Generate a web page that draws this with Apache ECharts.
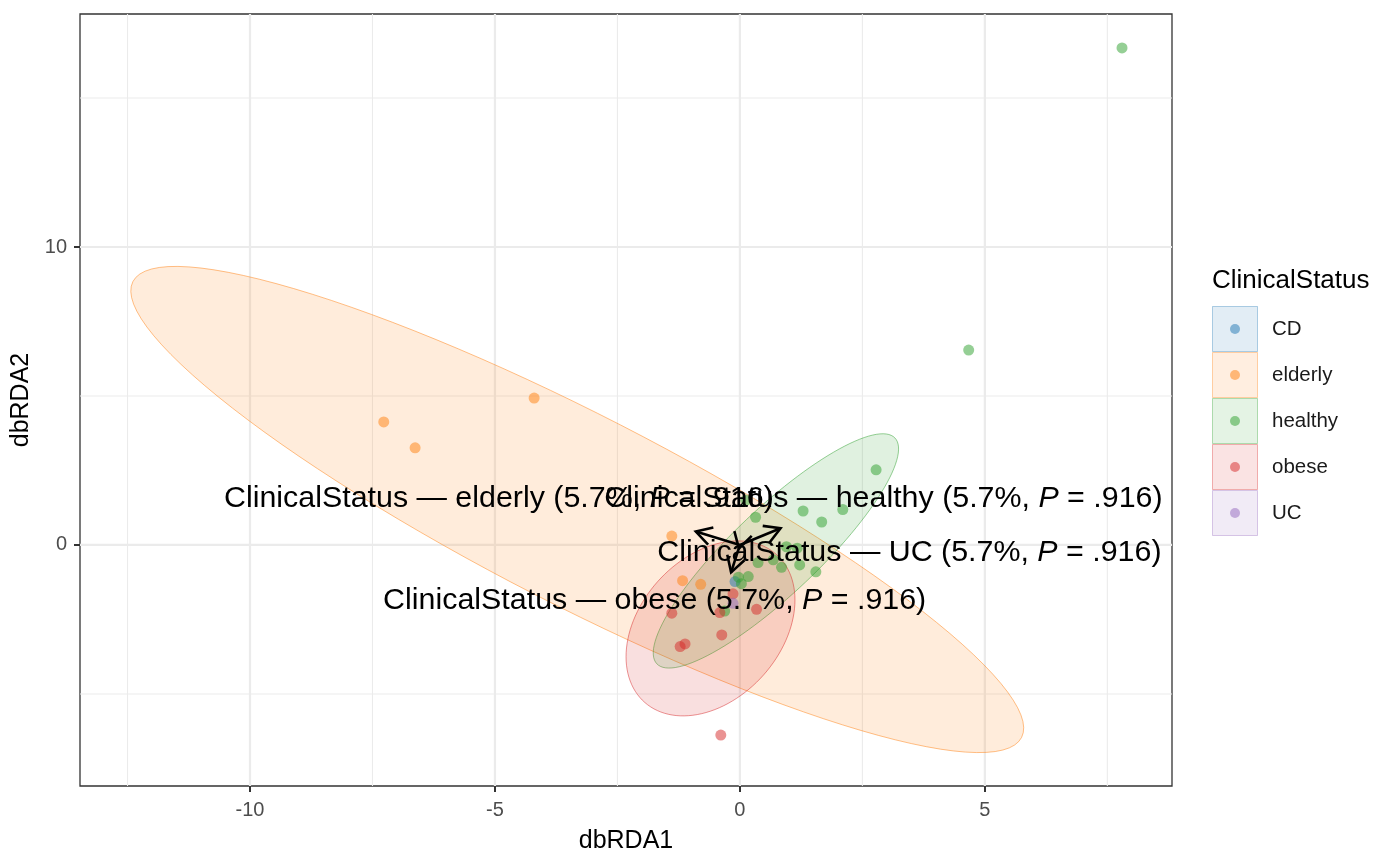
<!DOCTYPE html>
<html>
<head>
<meta charset="utf-8">
<script src="https://cdn.jsdelivr.net/npm/echarts@6/dist/echarts.min.js"></script>
<style>
  html, body { margin: 0; padding: 0; background: #fff; }
  #chart { width: 1400px; height: 866px; }
</style>
</head>
<body>
<div id="chart"></div>
<script>
// groups and colours
const groups = ['CD', 'elderly', 'healthy', 'obese', 'UC'];
const groupColors = ['#1F77B4', '#FF7F0E', '#2CA02C', '#D62728', '#9467BD'];

// sample scores (dbRDA1, dbRDA2)
const cdX = [-0.10];
const cdY = [-1.23];
const elderlyX = [-7.27, -6.63, -4.20, -1.39, -1.17, -0.80];
const elderlyY = [4.13, 3.26, 4.93, 0.30, -1.20, -1.32];
const healthyX = [7.80, 4.67, 2.78, 1.29, 1.67, 2.10, 0.32, 0.12, 0.95, 1.17, 1.22, 1.55, 0.85, 0.68, 0.37, 0.17, 0.03, -0.03, -0.31];
const healthyY = [16.68, 6.54, 2.52, 1.14, 0.77, 1.19, 0.93, 1.50, -0.06, -0.11, -0.67, -0.90, -0.75, -0.50, -0.59, -1.06, -1.30, -1.08, -2.22];
const obeseX = [-0.39, -0.14, -0.41, 0.34, -1.39, -0.37, -1.22, -1.12];
const obeseY = [-6.38, -1.64, -2.27, -2.16, -2.29, -3.02, -3.41, -3.32];
const ucX = [-0.14];
const ucY = [-1.96];

// ellipses: centre + two conjugate semi-diameters (data units)
const ellGroup = [1, 2, 3];
const ellCx = [-3.32, 0.735, -0.60];
const ellCy = [1.19, -0.20, -2.80];
const ellAx = [9.07, 2.43, 1.724];
const ellAy = [-7.65, 3.79, 0.953];
const ellBx = [0.885, -0.604, 0];
const ellBy = [2.836, 1.047, -2.778];

// constraint arrows (tips) and their labels
const arrowGroup = ['elderly', 'healthy', 'obese', 'UC'];
const arrowX = [-0.90, 0.83, -0.18, -0.02];
const arrowY = [0.45, 0.56, -0.92, -0.12];
const labelX = [-4.92, 2.93, -1.74, 3.46];
const labelY = [1.57, 1.57, -1.88, -0.26];
const labelPct = ['5.7%', '5.7%', '5.7%', '5.7%'];
const labelP = ['.916', '.916', '.916', '.916'];

// axes
const xMin = -13.47, xMax = 8.82;
const yMin = -8.09, yMax = 17.82;
const xMajor = [-10, -5, 0, 5];
const xMinor = [-12.5, -7.5, -2.5, 2.5, 7.5];
const yMajor = [0, 10];
const yMinor = [-5, 5, 15];

const FONT = 'Liberation Sans, Arial, sans-serif';
const LABEL_SIZE = 30.4;

function rgba(hex, a) {
    const n = parseInt(hex.slice(1), 16);
    return 'rgba(' + (n >> 16) + ',' + ((n >> 8) & 255) + ',' + (n & 255) + ',' + a + ')';
}

const pointSets = [[cdX, cdY], [elderlyX, elderlyY], [healthyX, healthyY], [obeseX, obeseY], [ucX, ucY]];

// [x, y, major, horizontal]
const gridData = [];
xMajor.forEach(v => gridData.push([v, 0, 1, 0]));
xMinor.forEach(v => gridData.push([v, 0, 0, 0]));
yMajor.forEach(v => gridData.push([0, v, 1, 1]));
yMinor.forEach(v => gridData.push([0, v, 0, 1]));

const series = [];

series.push({
    type: 'custom',
    z: 0,
    silent: true,
    clip: true,
    dimensions: ['x', 'y', 'major', 'horiz'],
    data: gridData,
    renderItem: (params, api) => {
        const cs = params.coordSys;
        const w = api.value(2) ? 2.2 : 1.1;
        if (api.value(3) === 1) {
            const y = api.coord([xMin, api.value(1)])[1];
            return { type: 'line', shape: { x1: cs.x, y1: y, x2: cs.x + cs.width, y2: y },
                     style: { stroke: '#EBEBEB', lineWidth: w } };
        }
        const x = api.coord([api.value(0), yMin])[0];
        return { type: 'line', shape: { x1: x, y1: cs.y, x2: x, y2: cs.y + cs.height },
                 style: { stroke: '#EBEBEB', lineWidth: w } };
    }
});

series.push({
    type: 'custom',
    z: 1,
    silent: true,
    clip: true,
    dimensions: ['x', 'y', 'idx'],
    data: ellGroup.map((g, i) => [ellCx[i], ellCy[i], i]),
    renderItem: (params, api) => {
        const i = api.value(2);
        const col = groupColors[ellGroup[i]];
        const pts = [];
        for (let k = 0; k < 120; k++) {
            const t = k / 120 * Math.PI * 2;
            pts.push(api.coord([
                ellCx[i] + ellAx[i] * Math.cos(t) + ellBx[i] * Math.sin(t),
                ellCy[i] + ellAy[i] * Math.cos(t) + ellBy[i] * Math.sin(t)
            ]));
        }
        return { type: 'polygon', shape: { points: pts },
                 style: { fill: rgba(col, 0.15), stroke: rgba(col, 0.55), lineWidth: 0.9 } };
    }
});

groups.forEach((g, gi) => {
    const [xs, ys] = pointSets[gi];
    series.push({
        name: g,
        type: 'scatter',
        z: 2,
        symbolSize: 11,
        itemStyle: { color: groupColors[gi], opacity: 0.5 },
        data: xs.map((x, k) => [x, ys[k]])
    });
});

series.push({
    type: 'custom',
    z: 3,
    silent: true,
    clip: false,
    data: arrowX.map((x, i) => [x, arrowY[i]]),
    renderItem: (params, api) => {
        const p0 = api.coord([0, 0]);
        const p1 = api.coord([api.value(0), api.value(1)]);
        const ang = Math.atan2(p1[1] - p0[1], p1[0] - p0[0]);
        const L = 18, a = Math.PI / 6;
        const h1 = [p1[0] - L * Math.cos(ang - a), p1[1] - L * Math.sin(ang - a)];
        const h2 = [p1[0] - L * Math.cos(ang + a), p1[1] - L * Math.sin(ang + a)];
        const st = { stroke: '#000', lineWidth: 2.6, fill: null, lineJoin: 'miter', lineCap: 'butt' };
        return { type: 'group', children: [
            { type: 'line', shape: { x1: p0[0], y1: p0[1], x2: p1[0], y2: p1[1] }, style: st },
            { type: 'polyline', shape: { points: [h1, p1, h2] }, style: st }
        ] };
    }
});

series.push({
    type: 'custom',
    z: 4,
    silent: true,
    clip: false,
    dimensions: ['x', 'y', 'idx'],
    data: labelX.map((x, i) => [x, labelY[i], i]),
    renderItem: (params, api) => {
        const i = api.value(2);
        const p = api.coord([api.value(0), api.value(1)]);
        return {
            type: 'text', x: p[0], y: p[1],
            style: {
                text: 'ClinicalStatus \u2014 ' + arrowGroup[i] + ' (' + labelPct[i] + ', {i|P} = ' + labelP[i] + ')',
                fill: '#000', fontSize: LABEL_SIZE, fontFamily: FONT,
                align: 'center', verticalAlign: 'middle',
                rich: { i: { fontStyle: 'italic', fontSize: LABEL_SIZE, fontFamily: FONT, fill: '#000' } }
            }
        };
    }
});

// legend drawn as graphic keys
const legendLeft = 1212, legendTop = 306, key = 46;
const graphics = [{
    type: 'text', left: legendLeft, top: 268,
    style: { text: 'ClinicalStatus', fontSize: 26, fontFamily: FONT, fill: '#000' }
}];
groups.forEach((g, i) => {
    const y0 = legendTop + i * key;
    graphics.push({
        type: 'rect', shape: { x: legendLeft + 0.5, y: y0 + 0.5, width: key - 1, height: key - 1 },
        style: { fill: rgba(groupColors[i], 0.13), stroke: rgba(groupColors[i], 0.35), lineWidth: 1 }
    });
    graphics.push({
        type: 'circle', shape: { cx: legendLeft + key / 2, cy: y0 + key / 2, r: 5 },
        style: { fill: rgba(groupColors[i], 0.5) }
    });
    graphics.push({
        type: 'text', x: legendLeft + 60, y: y0 + key / 2,
        style: { text: g, fontSize: 20.5, fontFamily: FONT, fill: '#1A1A1A', verticalAlign: 'middle' }
    });
});

const chart = echarts.init(document.getElementById('chart'));
chart.setOption({
    animation: false,
    backgroundColor: '#fff',
    grid: { left: 80, right: 228, top: 14, bottom: 80, show: true, borderColor: '#333', borderWidth: 1.3, backgroundColor: 'transparent' },
    xAxis: {
        type: 'value', min: xMin, max: xMax,
        name: 'dbRDA1', nameLocation: 'middle', nameGap: 43,
        nameTextStyle: { fontSize: 25, fontFamily: FONT, color: '#000' },
        axisLine: { show: false, onZero: false },
        axisTick: { show: true, length: 6, customValues: xMajor, lineStyle: { color: '#333', width: 2 } },
        axisLabel: { customValues: xMajor, fontSize: 20, fontFamily: FONT, color: '#4D4D4D', margin: 14 },
        splitLine: { show: false }
    },
    yAxis: {
        type: 'value', min: yMin, max: yMax,
        name: 'dbRDA2', nameLocation: 'middle', nameGap: 44,
        nameTextStyle: { fontSize: 25, fontFamily: FONT, color: '#000' },
        axisLine: { show: false, onZero: false },
        axisTick: { show: true, length: 6, customValues: yMajor, lineStyle: { color: '#333', width: 2 } },
        axisLabel: { customValues: yMajor, fontSize: 20, fontFamily: FONT, color: '#4D4D4D', margin: 13 },
        splitLine: { show: false }
    },
    graphic: graphics,
    series: series
});
</script>
</body>
</html>
